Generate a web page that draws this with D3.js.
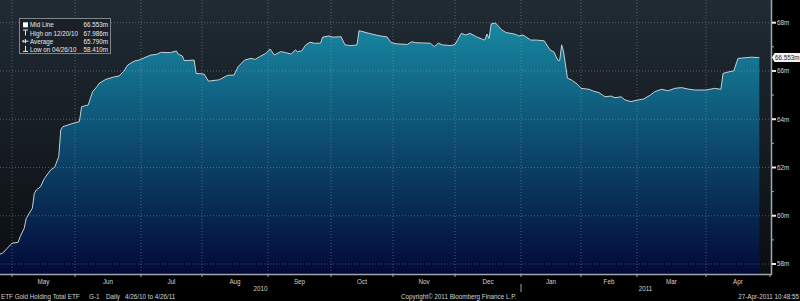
<!DOCTYPE html>
<html>
<head>
<meta charset="utf-8">
<script src="https://cdnjs.cloudflare.com/ajax/libs/d3/7.8.5/d3.min.js"></script>
<style>
html, body { margin: 0; padding: 0; background: #000; }
svg { display: block; }
text { font-family: "Liberation Sans", Arial, sans-serif; }
</style>
</head>
<body>
<script>
// ETF gold holdings, daily, 4/26/10 to 4/26/11 (values in millions of oz)
var dates = [
  "2010-04-26","2010-04-27","2010-04-29","2010-05-01","2010-05-04","2010-05-05","2010-05-07","2010-05-08","2010-05-11","2010-05-12",
  "2010-05-13","2010-05-15","2010-05-17","2010-05-20","2010-05-22","2010-05-24","2010-05-25","2010-05-26","2010-05-31",
  "2010-06-03","2010-06-04","2010-06-07","2010-06-08","2010-06-09","2010-06-11","2010-06-12","2010-06-15","2010-06-19","2010-06-21",
  "2010-06-23","2010-06-25","2010-06-28","2010-06-30",
  "2010-07-06","2010-07-09","2010-07-11","2010-07-16","2010-07-19","2010-07-20","2010-07-22","2010-07-23","2010-07-28","2010-07-29",
  "2010-08-02","2010-08-04","2010-08-09","2010-08-13","2010-08-16","2010-08-18","2010-08-21","2010-08-24","2010-08-26","2010-08-28","2010-08-31",
  "2010-09-02","2010-09-04","2010-09-07","2010-09-09","2010-09-12","2010-09-14","2010-09-15","2010-09-17","2010-09-19","2010-09-21",
  "2010-09-23","2010-09-26","2010-09-27","2010-09-30",
  "2010-10-02","2010-10-06","2010-10-08","2010-10-11","2010-10-14","2010-10-15","2010-10-20","2010-10-25","2010-10-29","2010-10-31",
  "2010-11-03","2010-11-08","2010-11-10","2010-11-12","2010-11-19","2010-11-21","2010-11-23","2010-11-25","2010-11-29",
  "2010-12-01","2010-12-04","2010-12-06","2010-12-08","2010-12-11","2010-12-14","2010-12-15","2010-12-16","2010-12-17","2010-12-18",
  "2010-12-20","2010-12-23","2010-12-25","2010-12-29","2010-12-31",
  "2011-01-02","2011-01-06","2011-01-09","2011-01-13","2011-01-16","2011-01-18","2011-01-20","2011-01-21","2011-01-22","2011-01-23",
  "2011-01-25","2011-01-27","2011-01-30",
  "2011-02-01","2011-02-05","2011-02-07","2011-02-10","2011-02-13","2011-02-16","2011-02-18","2011-02-21","2011-02-23","2011-02-26","2011-02-28",
  "2011-03-04","2011-03-07","2011-03-09","2011-03-12","2011-03-15","2011-03-18","2011-03-21","2011-03-24","2011-03-27",
  "2011-04-01","2011-04-05","2011-04-08","2011-04-09","2011-04-12","2011-04-14","2011-04-16","2011-04-22","2011-04-26"
];
var values = [
  58.41,58.44,58.65,58.86,58.90,59.13,59.48,59.89,60.31,60.93,
  61.07,61.20,61.55,61.90,62.01,62.45,63.55,63.69,63.83,
  63.90,64.52,64.59,64.87,65.14,65.35,65.49,65.65,65.76,65.79,
  65.97,66.25,66.41,66.45,
  66.66,66.69,66.77,66.76,66.83,66.69,66.62,66.43,66.45,65.90,
  65.87,65.58,65.63,65.82,65.83,66.18,66.45,66.52,66.48,66.59,66.73,
  66.91,66.66,66.80,66.77,66.70,66.87,66.80,66.83,67.08,67.19,
  67.15,67.15,67.40,67.45,
  67.40,67.42,67.08,67.05,67.08,67.67,67.56,67.46,67.41,67.18,
  67.12,67.10,67.21,67.17,67.15,67.01,67.15,67.08,67.05,
  67.10,67.56,67.49,67.56,67.42,67.31,67.28,67.53,67.35,67.95,
  67.986,67.70,67.59,67.53,67.45,
  67.49,67.28,67.28,67.25,66.87,66.79,66.45,66.43,67.08,66.79,
  65.70,65.63,65.46,
  65.28,65.24,65.17,65.10,64.93,64.96,64.89,64.93,64.80,64.73,64.77,
  64.84,65.00,65.14,65.24,65.18,65.28,65.31,65.25,65.21,
  65.21,65.28,65.24,65.90,65.97,66.00,66.52,66.57,66.553
];

var monthStarts = ["2010-05-01","2010-06-01","2010-07-01","2010-08-01","2010-09-01","2010-10-01","2010-11-01",
  "2010-12-01","2011-01-01","2011-02-01","2011-03-01","2011-04-01","2011-05-01"];
var monthLabels = ["May","Jun","Jul","Aug","Sep","Oct","Nov","Dec","Jan","Feb","Mar","Apr"];
var yearLabels = [{ year: "2010", from: "2010-04-26", to: "2011-01-01" }, { year: "2011", from: "2011-01-01", to: "2011-05-01" }];
var yTicks = [58, 60, 62, 64, 66, 68];
var yMinorTicks = [59, 61, 63, 65, 67];

var legendNames = ["Mid Line", "High on 12/20/10", "Average", "Low on 04/26/10"];
var legendValues = ["66.553m", "67.986m", "65.790m", "58.410m"];
var lastValue = 66.553;

var W = 800, H = 301;
var plotW = 771, plotH = 274;
var fs = 6.3;

var parse = d3.timeParse("%Y-%m-%d");
var data = dates.map(function(d, i) { return { date: parse(d), value: values[i] }; });

// bloomberg spaces the axis by trading days, so months are not all equally wide
var x = d3.scaleTime()
  .domain([parse("2010-04-26")].concat(monthStarts.map(parse)))
  .range([0, 12, 75, 141, 202, 268, 331, 393, 455, 521, 581, 637, 706, 770]);
var y = d3.scaleLinear().domain([58, 68]).range([264, 22.7]);

var svg = d3.select('body').append('svg')
  .attr('width', W)
  .attr('height', H);

var defs = svg.append('defs');
var bg = defs.append('linearGradient').attr('id', 'bg')
  .attr('x1', 0).attr('y1', 0).attr('x2', 0).attr('y2', 1);
bg.append('stop').attr('offset', '0%').attr('stop-color', '#202b34');
bg.append('stop').attr('offset', '100%').attr('stop-color', '#0b0e11');

var fill = defs.append('linearGradient').attr('id', 'fill')
  .attr('gradientUnits', 'userSpaceOnUse')
  .attr('x1', 0).attr('y1', 0).attr('x2', 0).attr('y2', plotH);
fill.append('stop').attr('offset', '0%').attr('stop-color', '#1a93ab');
fill.append('stop').attr('offset', '45%').attr('stop-color', '#0e5577');
fill.append('stop').attr('offset', '100%').attr('stop-color', '#030937');

defs.append('clipPath').attr('id', 'clip')
  .append('rect').attr('width', plotW).attr('height', plotH);

svg.append('rect')
  .attr('width', plotW).attr('height', plotH)
  .attr('fill', 'url(#bg)');

var plot = svg.append('g').attr('clip-path', 'url(#clip)');

var area = d3.area()
  .x(function(d) { return x(d.date); })
  .y0(plotH)
  .y1(function(d) { return y(d.value); });
var line = d3.line()
  .x(function(d) { return x(d.date); })
  .y(function(d) { return y(d.value); });

plot.append('path').datum(data)
  .attr('d', area)
  .attr('fill', 'url(#fill)');

// dotted grid
plot.selectAll('.hgrid').data(yTicks).enter().append('line')
  .attr('x1', 0).attr('x2', plotW)
  .attr('y1', function(d) { return y(d); }).attr('y2', function(d) { return y(d); })
  .attr('stroke', '#9aa6b0').attr('stroke-opacity', 0.45)
  .attr('stroke-dasharray', '1,2');
plot.selectAll('.vgrid').data(monthStarts.slice(0, -1)).enter().append('line')
  .attr('x1', function(d) { return x(parse(d)); }).attr('x2', function(d) { return x(parse(d)); })
  .attr('y1', 0).attr('y2', plotH)
  .attr('stroke', '#9aa6b0').attr('stroke-opacity', 0.45)
  .attr('stroke-dasharray', '1,2');

plot.append('path').datum(data)
  .attr('d', line)
  .attr('fill', 'none')
  .attr('stroke', '#c5d0d6')
  .attr('stroke-width', 1);

// x axis
svg.append('line')
  .attr('x1', 0).attr('x2', plotW + 1)
  .attr('y1', plotH + 0.5).attr('y2', plotH + 0.5)
  .attr('stroke', '#a0a6ab').attr('stroke-width', 1.5);
svg.selectAll('.xtick').data(monthStarts).enter().append('line')
  .attr('x1', function(d) { return x(parse(d)); }).attr('x2', function(d) { return x(parse(d)); })
  .attr('y1', plotH).attr('y2', plotH + 3)
  .attr('stroke', '#a0a6ab');

// month names centred on their span
svg.selectAll('.mlabel').data(monthLabels).enter().append('text')
  .attr('x', function(d, i) { return (x(parse(monthStarts[i])) + x(parse(monthStarts[i + 1]))) / 2; })
  .attr('y', 283.5)
  .attr('text-anchor', 'middle')
  .attr('font-size', fs)
  .attr('fill', '#cfd3d6')
  .text(function(d) { return d; });

svg.selectAll('.ylabel').data(yearLabels).enter().append('text')
  .attr('x', function(d) { return (x(parse(d.from)) + x(parse(d.to))) / 2; })
  .attr('y', 291)
  .attr('text-anchor', 'middle')
  .attr('font-size', fs)
  .attr('fill', '#cfd3d6')
  .text(function(d) { return d.year; });
svg.append('line')
  .attr('x1', x(parse("2011-01-01"))).attr('x2', x(parse("2011-01-01")))
  .attr('y1', 284).attr('y2', 292)
  .attr('stroke', '#a0a6ab');

// y axis on the right
svg.append('line')
  .attr('x1', plotW + 0.5).attr('x2', plotW + 0.5)
  .attr('y1', 0).attr('y2', plotH + 1)
  .attr('stroke', '#a0a6ab').attr('stroke-width', 1.5);
svg.selectAll('.ytick').data(yTicks).enter().append('rect')
  .attr('x', plotW + 1).attr('y', function(d) { return y(d) - 1; })
  .attr('width', 4).attr('height', 2)
  .attr('fill', '#e8e8e8');
svg.selectAll('.yminor').data(yMinorTicks).enter().append('line')
  .attr('x1', plotW + 1).attr('x2', plotW + 3)
  .attr('y1', function(d) { return y(d); }).attr('y2', function(d) { return y(d); })
  .attr('stroke', '#a0a6ab');
svg.selectAll('.ytext').data(yTicks).enter().append('text')
  .attr('x', plotW + 6).attr('y', function(d) { return y(d) + 2.3; })
  .attr('font-size', fs)
  .attr('fill', '#d6d9dc')
  .text(function(d) { return d + 'm'; });

// last price tag
var ty = y(lastValue);
svg.append('path')
  .attr('d', 'M' + (plotW + 1) + ',' + ty + 'L' + (plotW + 3.5) + ',' + (ty - 4.5) + 'H' + W + 'V' + (ty + 4.5) + 'H' + (plotW + 3.5) + 'Z')
  .attr('fill', '#f2f2f2');
svg.append('text')
  .attr('x', plotW + 4).attr('y', ty + 2.3)
  .attr('font-size', fs)
  .attr('fill', '#222')
  .text(d3.format('.3f')(lastValue) + 'm');

// legend box
var lg = svg.append('g').attr('transform', 'translate(19,18)');
lg.append('rect')
  .attr('x', 0.5).attr('y', 0.5).attr('width', 91).attr('height', 35)
  .attr('fill', '#1b2026').attr('stroke', '#7f878e');
var rows = lg.selectAll('.row').data(legendNames).enter().append('g')
  .attr('transform', function(d, i) { return 'translate(0,' + (9.3 + i * 8.2) + ')'; });
rows.append('text')
  .attr('x', 11).attr('y', 0)
  .attr('font-size', fs)
  .attr('fill', '#e6e8ea')
  .text(function(d) { return d; });
rows.append('text')
  .attr('x', 89).attr('y', 0)
  .attr('text-anchor', 'end')
  .attr('font-size', fs)
  .attr('fill', '#e6e8ea')
  .text(function(d, i) { return legendValues[i]; });
// icons
rows.filter(function(d, i) { return i === 0; }).append('rect')
  .attr('x', 4).attr('y', -5).attr('width', 5).attr('height', 5).attr('fill', '#fff');
rows.filter(function(d, i) { return i === 1; }).append('path')
  .attr('d', 'M4,-5.5H9M6.5,-5.5V0').attr('stroke', '#e6e8ea').attr('fill', 'none');
rows.filter(function(d, i) { return i === 2; }).append('path')
  .attr('d', 'M3.5,-2.5H9.5M6.5,-4.5V-0.5M3.5,-2.5L5,-4M3.5,-2.5L5,-1').attr('stroke', '#e6e8ea').attr('fill', 'none');
rows.filter(function(d, i) { return i === 3; }).append('path')
  .attr('d', 'M6.5,-6V-0.5M4,-0.5H9').attr('stroke', '#e6e8ea').attr('fill', 'none');

// footer
var footer = [
  { t: "ETF Gold Holding Total ETF", x: 1, a: "start" },
  { t: "G-1", x: 89, a: "start" },
  { t: "Daily", x: 106, a: "start" },
  { t: "4/26/10 to 4/26/11", x: 125, a: "start" },
  { t: "Copyright\u00a9 2011 Bloomberg Finance L.P.", x: 401, a: "start" },
  { t: "27-Apr-2011 10:48:55", x: 799, a: "end" }
];
svg.selectAll('.foot').data(footer).enter().append('text')
  .attr('x', function(d) { return d.x; })
  .attr('y', 299)
  .attr('text-anchor', function(d) { return d.a; })
  .attr('font-size', fs)
  .attr('fill', '#cfd3d6')
  .text(function(d) { return d.t; });
</script>
</body>
</html>
